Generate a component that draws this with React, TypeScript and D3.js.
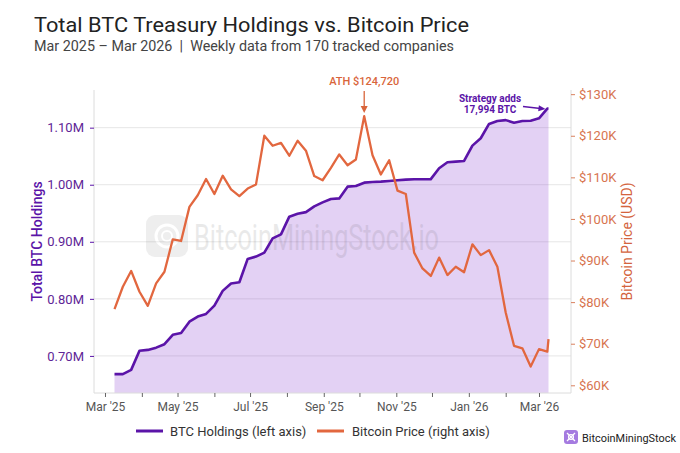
import React, { useEffect, useRef } from 'react';
import * as d3 from 'd3';

// weekly observations (last point is the latest daily update)
const weeks = [
    '2025-03-09', '2025-03-16', '2025-03-23', '2025-03-30', '2025-04-06', '2025-04-13', '2025-04-20', '2025-04-27',
    '2025-05-04', '2025-05-11', '2025-05-18', '2025-05-25', '2025-06-01', '2025-06-08', '2025-06-15', '2025-06-22',
    '2025-06-29', '2025-07-06', '2025-07-13', '2025-07-20', '2025-07-27', '2025-08-03', '2025-08-10', '2025-08-17',
    '2025-08-24', '2025-08-31', '2025-09-07', '2025-09-14', '2025-09-21', '2025-09-28', '2025-10-05', '2025-10-12',
    '2025-10-19', '2025-10-26', '2025-11-02', '2025-11-09', '2025-11-16', '2025-11-23', '2025-11-30', '2025-12-07',
    '2025-12-14', '2025-12-21', '2025-12-28', '2026-01-04', '2026-01-11', '2026-01-18', '2026-01-25', '2026-02-01',
    '2026-02-08', '2026-02-15', '2026-02-22', '2026-03-01', '2026-03-08', '2026-03-09',
];

// total BTC held, millions
const holdings = [
    0.668, 0.668, 0.6755, 0.709, 0.7105, 0.7145, 0.7205, 0.737, 0.740, 0.760,
    0.769, 0.7736, 0.788, 0.814, 0.827, 0.829, 0.870, 0.874, 0.881, 0.906,
    0.913, 0.944, 0.949, 0.952, 0.962, 0.969, 0.975, 0.976, 0.9966, 0.9978,
    1.0036, 1.0048, 1.0054, 1.0066, 1.0078, 1.0089, 1.0096, 1.0096, 1.0098, 1.0288,
    1.0393, 1.0404, 1.0416, 1.0685, 1.0814, 1.1065, 1.1117, 1.1132, 1.1087, 1.1117,
    1.1122, 1.1164, 1.1335, 1.1335,
];

// BTC price, USD
const btcPrice = [
    78300, 83700, 87500, 82500, 79100, 84500, 87300, 95100, 94700, 102900,
    105700, 109600, 106000, 110400, 107100, 105500, 107300, 108300, 120000, 117600,
    118300, 115200, 118800, 116400, 110300, 109300, 112300, 115500, 112900, 114300,
    124720, 115300, 110700, 114100, 106800, 106000, 91900, 88100, 86300, 90700,
    86500, 88500, 87200, 93900, 91300, 92500, 88500, 77500, 69500, 68900,
    64500, 68700, 68100, 71100,
];

const holdingTicks = [0.7, 0.8, 0.9, 1.0, 1.1];
const priceTicks = [60000, 70000, 80000, 90000, 100000, 110000, 120000, 130000];

const PURPLE = '#5b14a8';
const ORANGE = '#e2673f';
const FONT = 'Roboto, sans-serif';

const App: React.FC = () => {
    const chartRef = useRef<SVGSVGElement>(null);

    useEffect(() => {
        const svg = d3.select(chartRef.current);
        svg.selectAll('*').remove();

        const left = 94, right = 571, top = 90, bottom = 393;
        const parse = d3.timeParse('%Y-%m-%d');
        const dates = weeks.map(w => parse(w) as Date);
        const rows = dates.map((d, i) => ({ date: d, h: holdings[i], p: btcPrice[i] }));

        const x = d3.scaleTime()
            .domain([new Date(2025, 1, 19, 18), new Date(2026, 2, 27, 22)])
            .range([left, right]);
        const yL = d3.scaleLinear().domain([0.635, 1.166]).range([bottom, top]);
        const yR = d3.scaleLinear().domain([58150, 131000]).range([bottom, top]);

        svg.append('rect').attr('width', 680).attr('height', 453).attr('fill', '#fff');

        // titles
        svg.append('text')
            .attr('x', 34).attr('y', 32)
            .attr('font-family', FONT).attr('font-size', 20.5).attr('fill', '#222')
            .attr('textLength', 435).attr('lengthAdjust', 'spacingAndGlyphs')
            .text('Total BTC Treasury Holdings vs. Bitcoin Price');
        svg.append('text')
            .attr('x', 34).attr('y', 51)
            .attr('font-family', FONT).attr('font-size', 14.5).attr('fill', '#444')
            .attr('textLength', 420).attr('lengthAdjust', 'spacingAndGlyphs')
            .text('Mar 2025 \u2013 Mar 2026 \u00a0|\u00a0 Weekly data from 170 tracked companies');

        // grid
        svg.append('g')
            .selectAll('line')
            .data(holdingTicks)
            .enter().append('line')
            .attr('x1', left).attr('x2', right)
            .attr('y1', d => yL(d)).attr('y2', d => yL(d))
            .attr('stroke', '#e6e6e6').attr('stroke-width', 1);

        // holdings area
        const area = d3.area<typeof rows[0]>()
            .x(d => x(d.date))
            .y0(bottom)
            .y1(d => yL(d.h));
        svg.append('path')
            .datum(rows)
            .attr('d', area)
            .attr('fill', '#8a3fd1')
            .attr('fill-opacity', 0.24);

        // watermark
        const wm = svg.append('g').attr('opacity', 0.12);
        wm.append('rect')
            .attr('x', 146).attr('y', 215).attr('width', 42).attr('height', 42).attr('rx', 9)
            .attr('fill', '#777');
        wm.append('circle').attr('cx', 167).attr('cy', 236).attr('r', 11)
            .attr('fill', 'none').attr('stroke', '#fff').attr('stroke-width', 3);
        wm.append('circle').attr('cx', 167).attr('cy', 236).attr('r', 5)
            .attr('fill', 'none').attr('stroke', '#fff').attr('stroke-width', 2);
        wm.append('text')
            .attr('x', 194).attr('y', 250)
            .attr('font-family', FONT).attr('font-size', 36).attr('fill', '#555')
            .attr('textLength', 245).attr('lengthAdjust', 'spacingAndGlyphs')
            .text('BitcoinMiningStock.io');

        // spines
        const spines = svg.append('g').attr('stroke', '#dcdcdc').attr('stroke-width', 1);
        spines.append('line').attr('x1', left).attr('x2', left).attr('y1', top).attr('y2', bottom);
        spines.append('line').attr('x1', right).attr('x2', right).attr('y1', top).attr('y2', bottom);
        spines.append('line').attr('x1', left).attr('x2', right).attr('y1', bottom).attr('y2', bottom);

        // lines
        const holdLine = d3.line<typeof rows[0]>().x(d => x(d.date)).y(d => yL(d.h));
        const priceLine = d3.line<typeof rows[0]>().x(d => x(d.date)).y(d => yR(d.p));

        svg.append('path')
            .datum(rows)
            .attr('d', holdLine)
            .attr('fill', 'none')
            .attr('stroke', PURPLE)
            .attr('stroke-width', 2.6)
            .attr('stroke-linejoin', 'round');

        svg.append('path')
            .datum(rows)
            .attr('d', priceLine)
            .attr('fill', 'none')
            .attr('stroke', ORANGE)
            .attr('stroke-width', 2.3)
            .attr('stroke-linejoin', 'round');

        // axes
        const months = d3.timeMonth.range(new Date(2025, 2, 1), new Date(2026, 2, 2));
        const monthFmt = d3.timeFormat("%b '%y");
        const xAxis = svg.append('g')
            .attr('transform', `translate(0,${bottom})`)
            .call(d3.axisBottom(x)
                .tickValues(months)
                .tickSize(4)
                .tickPadding(5)
                .tickFormat((d, i) => (i % 2 === 0 ? monthFmt(d as Date) : '')));
        xAxis.select('.domain').remove();
        xAxis.selectAll('line').attr('stroke', '#666');
        xAxis.selectAll('text').attr('font-family', FONT).attr('font-size', 12).attr('fill', '#555');

        const leftAxis = svg.append('g')
            .attr('transform', `translate(${left},0)`)
            .call(d3.axisLeft(yL)
                .tickValues(holdingTicks)
                .tickSize(4)
                .tickPadding(6)
                .tickFormat(d => `${(d as number).toFixed(2)}M`));
        leftAxis.select('.domain').remove();
        leftAxis.selectAll('line').attr('stroke', PURPLE);
        leftAxis.selectAll('text').attr('font-family', FONT).attr('font-size', 13).attr('fill', '#5e2596');

        const rightAxis = svg.append('g')
            .attr('transform', `translate(${right},0)`)
            .call(d3.axisRight(yR)
                .tickValues(priceTicks)
                .tickSize(4)
                .tickPadding(4)
                .tickFormat(d => `$${(d as number) / 1000}K`));
        rightAxis.select('.domain').remove();
        rightAxis.selectAll('line').attr('stroke', '#d9805e');
        rightAxis.selectAll('text').attr('font-family', FONT).attr('font-size', 13).attr('fill', '#d7744f');

        svg.append('text')
            .attr('transform', `translate(42,${(top + bottom) / 2}) rotate(-90)`)
            .attr('text-anchor', 'middle')
            .attr('font-family', FONT).attr('font-size', 14).attr('font-weight', 500)
            .attr('fill', PURPLE)
            .text('Total BTC Holdings');
        svg.append('text')
            .attr('transform', `translate(632,${(top + bottom) / 2}) rotate(-90)`)
            .attr('text-anchor', 'middle')
            .attr('font-family', FONT).attr('font-size', 14)
            .attr('fill', '#d4643e')
            .text('Bitcoin Price (USD)');

        // ATH annotation
        const athIdx = btcPrice.indexOf(d3.max(btcPrice) as number);
        const ax = x(dates[athIdx]);
        const ay = yR(btcPrice[athIdx]);
        svg.append('text')
            .attr('x', ax).attr('y', 85)
            .attr('text-anchor', 'middle')
            .attr('font-family', FONT).attr('font-size', 11).attr('font-weight', 500)
            .attr('fill', '#d9653b')
            .text(`ATH $${d3.format(',')(btcPrice[athIdx])}`);
        svg.append('line')
            .attr('x1', ax).attr('x2', ax).attr('y1', 91).attr('y2', ay - 8)
            .attr('stroke', '#d9653b').attr('stroke-width', 1.3);
        svg.append('path')
            .attr('d', `M${ax - 3.5},${ay - 10} L${ax + 3.5},${ay - 10} L${ax},${ay - 3} Z`)
            .attr('fill', '#d9653b');

        // Strategy annotation
        const last = rows[rows.length - 1];
        const lx = x(last.date);
        const ly = yL(last.h);
        svg.append('text')
            .attr('x', 490).attr('y', 102)
            .attr('text-anchor', 'middle')
            .attr('font-family', FONT).attr('font-size', 10).attr('font-weight', 700)
            .attr('fill', PURPLE)
            .text('Strategy adds');
        svg.append('text')
            .attr('x', 490).attr('y', 113)
            .attr('text-anchor', 'middle')
            .attr('font-family', FONT).attr('font-size', 10).attr('font-weight', 700)
            .attr('fill', PURPLE)
            .text('17,994 BTC');
        const sx1 = 523, sy1 = 106.5, sx2 = lx - 3, sy2 = ly + 0.5;
        const ang = Math.atan2(sy2 - sy1, sx2 - sx1);
        svg.append('line')
            .attr('x1', sx1).attr('y1', sy1)
            .attr('x2', sx2 - 5 * Math.cos(ang)).attr('y2', sy2 - 5 * Math.sin(ang))
            .attr('stroke', PURPLE).attr('stroke-width', 1.3);
        svg.append('path')
            .attr('d', `M${sx2},${sy2} L${sx2 - 7 * Math.cos(ang) + 3 * Math.sin(ang)},${sy2 - 7 * Math.sin(ang) - 3 * Math.cos(ang)} L${sx2 - 7 * Math.cos(ang) - 3 * Math.sin(ang)},${sy2 - 7 * Math.sin(ang) + 3 * Math.cos(ang)} Z`)
            .attr('fill', PURPLE);

        // legend
        const legend = svg.append('g').attr('font-family', FONT).attr('font-size', 13).attr('fill', '#333');
        legend.append('line').attr('x1', 136).attr('x2', 163).attr('y1', 431).attr('y2', 431)
            .attr('stroke', PURPLE).attr('stroke-width', 3);
        legend.append('text').attr('x', 170).attr('y', 435.5).text('BTC Holdings (left axis)');
        legend.append('line').attr('x1', 317).attr('x2', 344).attr('y1', 431).attr('y2', 431)
            .attr('stroke', ORANGE).attr('stroke-width', 3);
        legend.append('text').attr('x', 352).attr('y', 435.5).text('Bitcoin Price (right axis)');

        // logo
        const logo = svg.append('g');
        logo.append('rect').attr('x', 564).attr('y', 430).attr('width', 14).attr('height', 14).attr('rx', 3)
            .attr('fill', '#a57be0');
        logo.append('path').attr('d', 'M567,433 L575,441 M575,433 L567,441')
            .attr('stroke', '#fff').attr('stroke-width', 1.3);
        logo.append('circle').attr('cx', 571).attr('cy', 437).attr('r', 2.5)
            .attr('fill', 'none').attr('stroke', '#fff').attr('stroke-width', 1.1);
        logo.append('text').attr('x', 582).attr('y', 441.5)
            .attr('font-family', FONT).attr('font-size', 11.5).attr('fill', '#222')
            .attr('textLength', 94).attr('lengthAdjust', 'spacingAndGlyphs')
            .text('BitcoinMiningStock');
    }, []);

    return (
        <svg ref={chartRef} width="680" height="453"
            style={{ position: 'absolute', left: 0, top: 0, display: 'block' }}></svg>
    );
};

export default App;
